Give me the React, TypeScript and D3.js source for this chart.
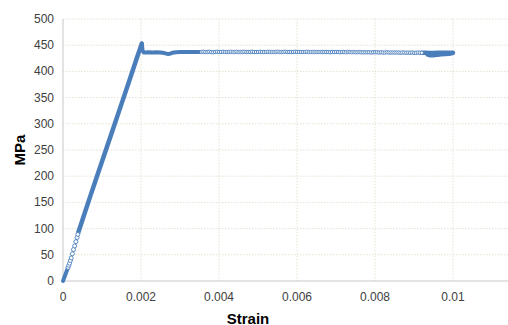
import React from "react";
import * as d3 from "d3";

// loading branch, near origin (markers packed tight)
const loadLowStrain = [0, 0.00002, 0.00004, 0.00006, 0.00008, 0.0001, 0.00012];
const loadLowStress = [0, 4, 8, 12, 16, 20, 24];

// loading branch, sparse open markers
const loadOpenStrain = [0.00013, 0.00015, 0.00017, 0.00019, 0.00021, 0.00024, 0.00027, 0.0003, 0.00033, 0.00036, 0.00038];
const loadOpenStress = [26, 30, 34, 39, 44, 52, 60, 67, 75, 83, 89];

// loading branch, dense
const loadStrain = [0.00039, 0.0005, 0.0007, 0.0009, 0.0011, 0.0013, 0.0015, 0.0017, 0.0019, 0.00202];
const loadStress = [92, 117, 162, 206, 250, 294, 338, 382, 427, 453];

// start of the plateau, dense
const yieldStrain = [0.00202, 0.00204, 0.00207, 0.0021, 0.0022, 0.0023, 0.0024, 0.0025, 0.0026, 0.00265, 0.0027, 0.00275, 0.0028, 0.0029, 0.003, 0.0031, 0.0032, 0.0033, 0.0034, 0.0035];
const yieldStress = [453, 440, 436, 436, 436.5, 436, 436.5, 436, 435, 434, 433, 434, 435.5, 436.5, 437, 437, 437, 437, 437, 437];

// plateau, open markers
const plateauStrain = [
  0.00355, 0.0036, 0.00365, 0.0037, 0.00375, 0.0038, 0.00385, 0.0039, 0.00395, 0.004,
  0.00405, 0.0041, 0.00415, 0.0042, 0.00425, 0.0043, 0.00435, 0.0044, 0.00445, 0.0045,
  0.00455, 0.0046, 0.00465, 0.0047, 0.00475, 0.0048, 0.00485, 0.0049, 0.00495, 0.005,
  0.00505, 0.0051, 0.00515, 0.0052, 0.00525, 0.0053, 0.00535, 0.0054, 0.00545, 0.0055,
  0.00555, 0.0056, 0.00565, 0.0057, 0.00575, 0.0058, 0.00585, 0.0059, 0.00595, 0.006,
  0.00605, 0.0061, 0.00615, 0.0062, 0.00625, 0.0063, 0.00635, 0.0064, 0.00645, 0.0065,
  0.00655, 0.0066, 0.00665, 0.0067, 0.00675, 0.0068, 0.00685, 0.0069, 0.00695, 0.007,
  0.00705, 0.0071, 0.00715, 0.0072, 0.00725, 0.0073, 0.00735, 0.0074, 0.00745, 0.0075,
  0.00755, 0.0076, 0.00765, 0.0077, 0.00775, 0.0078, 0.00785, 0.0079, 0.00795, 0.008,
  0.00805, 0.0081, 0.00815, 0.0082, 0.00825, 0.0083, 0.00835, 0.0084, 0.00845, 0.0085,
  0.00855, 0.0086, 0.00865, 0.0087, 0.00875, 0.0088, 0.00885, 0.0089, 0.00895, 0.009,
  0.00905, 0.0091, 0.00915, 0.0092,
];
const plateauStress = [
  437, 437.5, 437, 437, 437.5, 437, 436.5, 437, 437.5, 437,
  437, 437.5, 437, 437, 437, 437.5, 437, 437, 437.5, 437,
  437, 437, 437.5, 437, 437, 437, 437.5, 437, 437, 437,
  437.5, 437, 437, 437, 437.5, 437, 437, 437, 437, 437.5,
  437, 437, 437, 437.5, 437, 437, 437, 437, 437.5, 437,
  437, 437, 437, 437, 437.5, 437, 437, 437, 437, 437,
  437, 437, 437, 437, 437, 437, 436.5, 437, 437, 437,
  437, 436.5, 437, 437, 436.5, 437, 437, 436.5, 437, 436.5,
  436.5, 437, 436.5, 436.5, 436.5, 436.5, 436.5, 436, 436.5, 436.5,
  436.5, 436, 436.5, 436, 436, 436.5, 436, 436, 436, 436,
  436, 436, 435.5, 436, 436, 435.5, 436, 435.5, 436, 435.5,
  435.5, 436, 435.5, 435.5,
];

// end of test, dense blob with a dip
const endStrain = [0.0092, 0.0093, 0.0094, 0.0095, 0.0096, 0.0097, 0.0098, 0.0099, 0.01, 0.0099, 0.0098, 0.0097, 0.0096, 0.0095, 0.0094, 0.00935];
const endStress = [435.5, 435.5, 435, 435, 435.5, 435.5, 435.5, 435.5, 435.5, 433.5, 433, 432.5, 432, 431, 431, 432];

const xTicks = [0, 0.002, 0.004, 0.006, 0.008, 0.01, 0.012];
const xTickLabels = ["0", "0.002", "0.004", "0.006", "0.008", "0.01", ""];
const yTicks = [0, 50, 100, 150, 200, 250, 300, 350, 400, 450, 500];

const W = 508;
const H = 325;
const blue = "#4a7ebb";
const font = "'Liberation Sans', Arial, sans-serif";

const zip = (xs: number[], ys: number[]) => xs.map((x, i) => [x, ys[i]] as [number, number]);

export default function App() {
  const x = d3.scaleLinear().domain([0, 0.012]).range([63, 531]);
  const y = d3.scaleLinear().domain([0, 500]).range([281, 19]);
  const line = d3
    .line<[number, number]>()
    .x((d) => x(d[0]))
    .y((d) => y(d[1]));

  const low = zip(loadLowStrain, loadLowStress);
  const open = zip(loadOpenStrain, loadOpenStress);
  const load = zip(loadStrain, loadStress);
  const yld = zip(yieldStrain, yieldStress);
  const plateau = zip(plateauStrain, plateauStress);
  const end = zip(endStrain, endStress);

  return (
    <svg
      width={W}
      height={H}
      style={{ position: "absolute", left: 0, top: 0, background: "#fff" }}
    >
      {/* grid */}
      <g stroke="#dedbc8" strokeWidth={0.8} strokeDasharray="1.5,1.5">
        {yTicks.filter((t) => t > 0).map((t) => (
          <line key={"h" + t} x1={x(0)} x2={W} y1={y(t)} y2={y(t)} />
        ))}
        {xTicks.filter((t) => t > 0).map((t) => (
          <line key={"v" + t} x1={x(t)} x2={x(t)} y1={y(500)} y2={y(0)} />
        ))}
      </g>
      {/* axes */}
      <line x1={x(0)} x2={x(0)} y1={y(500)} y2={y(0)} stroke="#c8c8c8" strokeWidth={1} />
      <line x1={x(0)} x2={W} y1={y(0)} y2={y(0)} stroke="#c8c8c8" strokeWidth={1} />

      {/* tick labels */}
      <g fontFamily={font} fontSize={12} fill="#404040">
        {yTicks.map((t) => (
          <text key={"yl" + t} x={54} y={y(t)} textAnchor="end" dominantBaseline="central">
            {t}
          </text>
        ))}
        {xTicks.map((t, i) => (
          <text key={"xl" + t} x={x(t)} y={297} textAnchor="middle" dominantBaseline="central">
            {xTickLabels[i]}
          </text>
        ))}
      </g>

      {/* axis titles */}
      <text
        transform={`translate(19,${(y(0) + y(500)) / 2}) rotate(-90)`}
        textAnchor="middle"
        dominantBaseline="central"
        fontFamily={font}
        fontWeight="bold"
        fontSize={15}
        fill="#000"
      >
        MPa
      </text>
      <text
        x={248}
        y={318}
        textAnchor="middle"
        dominantBaseline="central"
        fontFamily={font}
        fontWeight="bold"
        fontSize={15}
        fill="#000"
      >
        Strain
      </text>

      {/* series */}
      <g fill="none" stroke={blue} strokeLinecap="round" strokeLinejoin="round">
        <path d={line(low) ?? ""} strokeWidth={4} />
        <path d={line([...low.slice(-1), ...open, load[0]]) ?? ""} strokeWidth={1.2} />
        <path d={line(load) ?? ""} strokeWidth={4.5} />
        <path d={line(yld) ?? ""} strokeWidth={4} />
        <path d={line([yld[yld.length - 1], ...plateau, end[0]]) ?? ""} strokeWidth={1.2} />
        <path d={line(end) ?? ""} strokeWidth={4.5} />
      </g>
      <g fill="#fff" stroke={blue} strokeWidth={0.9}>
        {open.map((d, i) => (
          <circle key={"o" + i} cx={x(d[0])} cy={y(d[1])} r={2} />
        ))}
        {plateau.map((d, i) => (
          <circle key={"p" + i} cx={x(d[0])} cy={y(d[1])} r={1.7} />
        ))}
      </g>
    </svg>
  );
}
